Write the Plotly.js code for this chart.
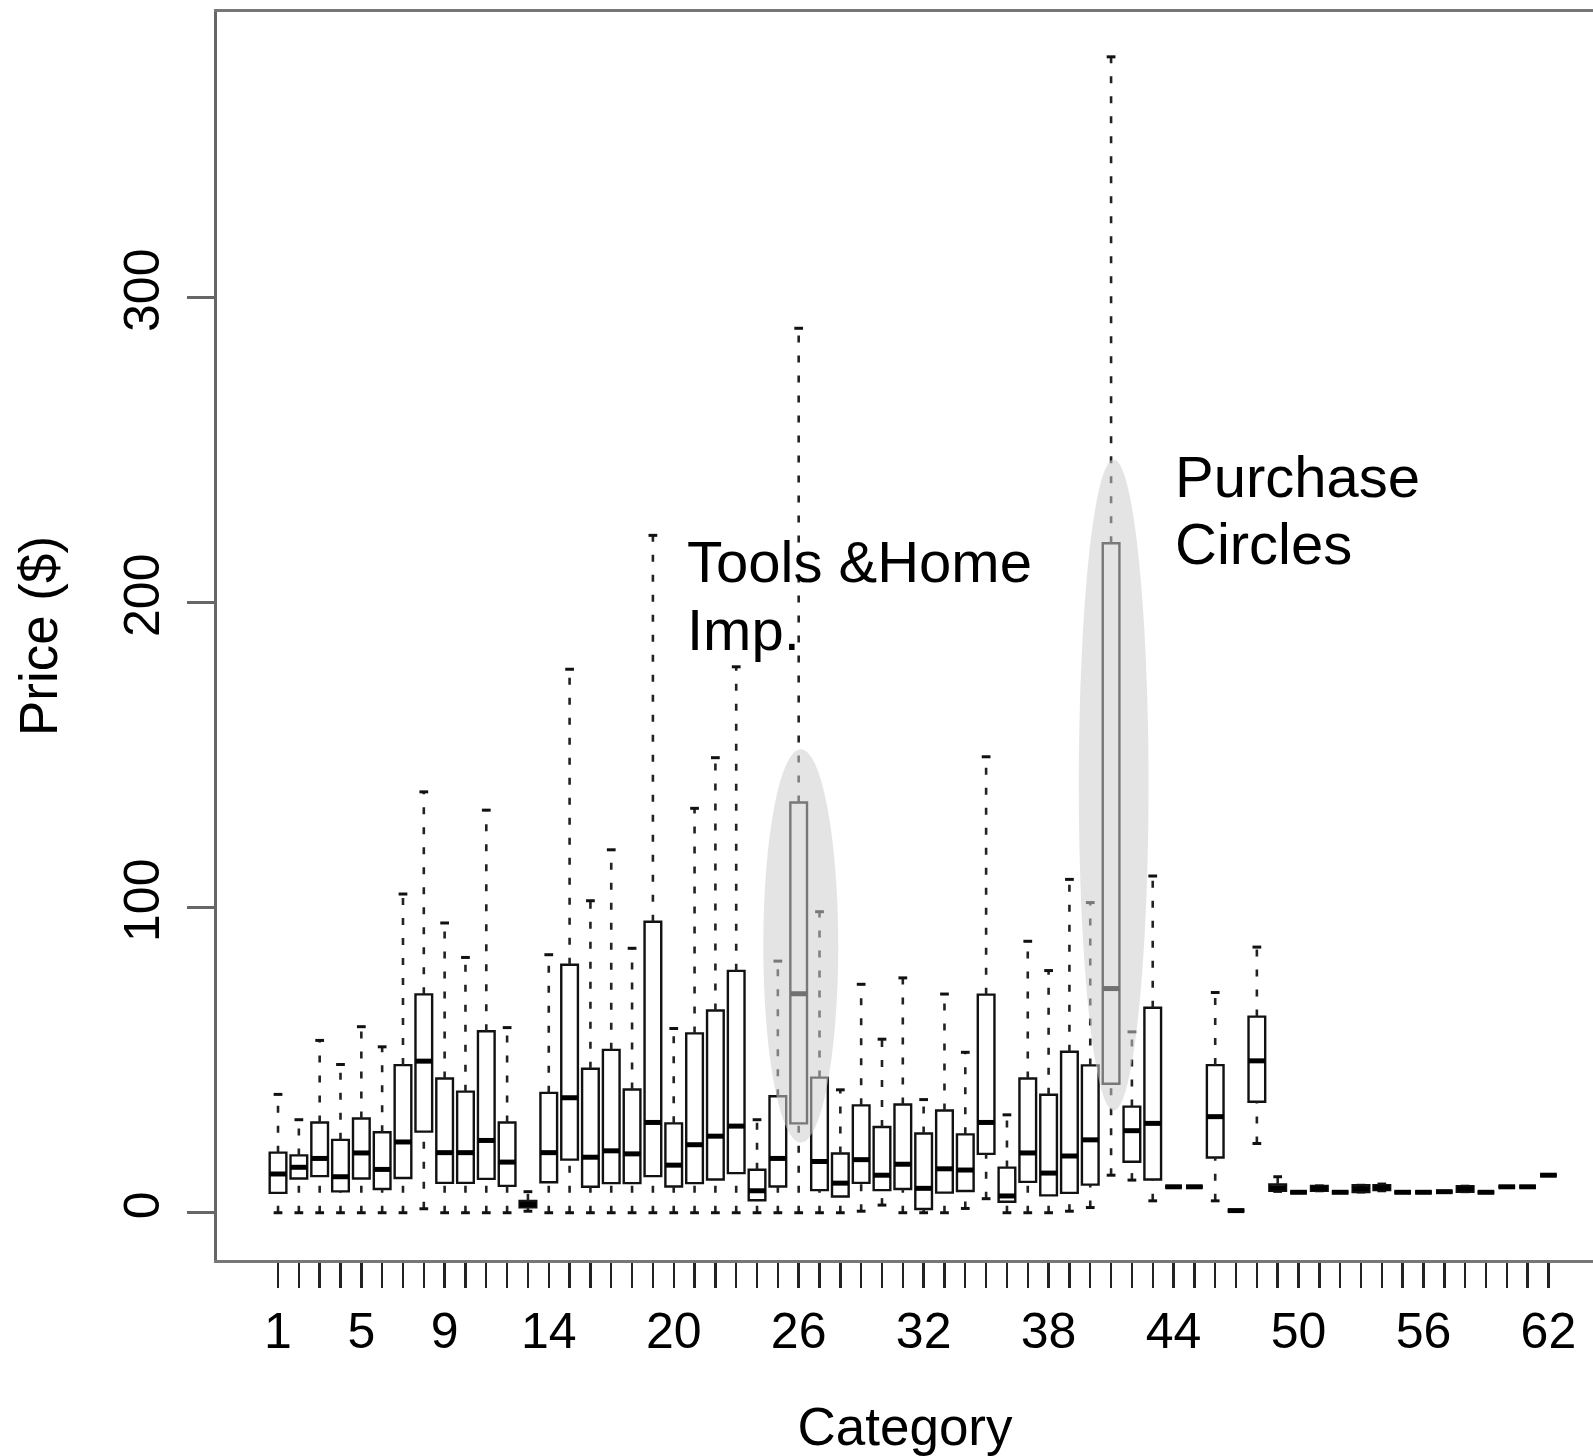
<!DOCTYPE html>
<html>
<head>
<meta charset="utf-8">
<script src="https://cdn.plot.ly/plotly-3.0.1.min.js"></script>
<style>html,body{margin:0;padding:0;background:#fff;overflow:hidden}</style>
</head>
<body>
<div id="chart" style="width:1593px;height:1456px"></div>
<script>
// ---- data ----
const categories = [1,2,3,4,5,6,7,8,9,10,11,12,13,14,15,16,17,18,19,20,21,22,23,24,25,26,27,28,29,30,31,32,33,34,35,36,37,38,39,40,41,42,43,44,45,46,47,48,49,50,51,52,53,54,55,56,57,58,59,60,61,62];
const lowerWhisker = [0,0,0,0,0,0,0,1.3,0,0,0,0,0.5,0,0,0,0,0,0,0,0,0,0,0,0,0,0,0,0.5,2.5,0,0,0,1.4,4.6,0,0,0,0.5,1.7,12.3,10.7,3.9,8.5,8.5,3.9,0.7,22.7,7.0,6.7,7.2,6.7,6.8,7.2,6.7,6.7,6.9,6.9,6.7,8.5,8.5,12.3];
const q1 = [6.5,11.2,12.0,7.0,11.2,7.8,11.4,26.6,9.8,9.8,11.1,8.8,1.8,10.0,17.4,8.5,9.7,9.7,12.0,8.6,9.7,10.9,13.0,4.1,8.6,29.3,7.4,5.3,9.8,7.4,7.8,1.2,6.6,7.1,19.3,3.6,10.1,5.7,6.5,9.2,42.3,16.7,10.9,8.5,8.5,18.1,0.7,36.4,7.2,6.7,7.2,6.7,6.8,7.4,6.7,6.7,6.9,6.9,6.7,8.5,8.5,12.3];
const median = [12.7,14.9,17.8,11.8,19.6,14.2,23.2,49.7,19.7,19.7,23.7,16.6,2.7,19.7,37.7,18.2,20.3,19.3,29.6,15.6,22.3,25.1,28.4,7.2,17.8,71.8,16.8,9.7,17.4,12.3,15.9,8.0,14.4,14.0,29.6,5.5,19.6,13.0,18.6,23.9,73.5,26.9,29.3,8.5,8.5,31.5,0.7,49.8,8.2,6.7,8.0,6.7,7.9,8.2,6.7,6.7,6.9,7.8,6.7,8.5,8.5,12.3];
const q3 = [19.7,18.8,29.6,23.9,30.9,26.4,48.4,71.6,44.0,39.7,59.5,29.6,3.9,39.3,81.3,47.2,53.4,40.4,95.4,29.3,58.8,66.3,79.3,14.1,38.2,134.5,44.3,19.4,35.2,28.1,35.5,26.0,33.5,25.7,71.5,14.8,44.0,38.7,52.8,48.3,219.5,34.8,67.2,8.5,8.5,48.4,0.7,64.3,9.3,6.7,8.8,6.7,9.0,9.0,6.7,6.7,6.9,8.7,6.7,8.5,8.5,12.3];
const upperWhisker = [38.8,30.5,56.5,48.6,61.0,54.4,104.5,138.0,95.0,83.7,132.0,60.7,6.9,84.6,178.2,102.3,119.0,86.7,222.1,60.4,132.6,149.2,179.0,30.5,82.5,290.0,98.7,40.3,74.9,56.9,77.0,37.1,71.7,52.6,149.5,32.1,89.0,79.4,109.3,101.7,379.0,59.3,110.4,8.5,8.5,72.2,0.7,87.1,11.8,6.7,8.8,6.7,9.0,9.4,6.7,6.7,6.9,8.7,6.7,8.5,8.5,12.3];
const labeledTicks = [1,5,9,14,20,26,32,38,44,50,56,62];
const yTicks = [0,100,200,300];

// ---- styling constants ----
const FONT = 'Liberation Sans, Arial, Helvetica, sans-serif';
const BOX_HALF = 0.4;
const CAP_HALF = 0.21;

// box bodies (whiskers drawn separately, dashed, as in R)
const boxTrace = {
  type: 'box',
  x: categories,
  q1: q1,
  median: median,
  q3: q3,
  lowerfence: q1,
  upperfence: q3,
  width: 0.8,
  whiskerwidth: 0,
  boxpoints: false,
  fillcolor: 'rgba(255,255,255,0)',
  line: {color: '#111', width: 2.4},
  hoverinfo: 'skip',
  showlegend: false
};

const wx = [], wy = [], cx = [], cy = [], mx = [], my = [];
categories.forEach((c, i) => {
  if (upperWhisker[i] > q3[i]) { wx.push(c, c, null); wy.push(q3[i], upperWhisker[i], null); }
  if (lowerWhisker[i] < q1[i]) { wx.push(c, c, null); wy.push(lowerWhisker[i], q1[i], null); }
  cx.push(c - CAP_HALF, c + CAP_HALF, null); cy.push(upperWhisker[i], upperWhisker[i], null);
  cx.push(c - CAP_HALF, c + CAP_HALF, null); cy.push(lowerWhisker[i], lowerWhisker[i], null);
  mx.push(c - BOX_HALF, c + BOX_HALF, null); my.push(median[i], median[i], null);
});

const whiskerTrace = {type:'scatter', mode:'lines', x:wx, y:wy, line:{color:'#222', width:2.6, dash:'7px,13px'}, hoverinfo:'skip', showlegend:false};
const capTrace = {type:'scatter', mode:'lines', x:cx, y:cy, line:{color:'#111', width:3}, hoverinfo:'skip', showlegend:false};
const medianTrace = {type:'scatter', mode:'lines', x:mx, y:my, line:{color:'#000', width:5}, hoverinfo:'skip', showlegend:false};

const layout = {
  width: 1593, height: 1456,
  margin: {l: 217, r: 0, t: 12, b: 196},
  paper_bgcolor: '#fff', plot_bgcolor: '#fff',
  font: {family: FONT, color: '#000'},
  showlegend: false,
  xaxis: {
    range: [-1.93, 64.14],
    tickmode: 'array',
    tickvals: categories,
    ticktext: categories.map(c => labeledTicks.includes(c) ? String(c) : ''),
    ticks: 'outside', ticklen: 25, tickwidth: 2.4, tickcolor: '#222',
    tickfont: {family: FONT, size: 50, color: '#000'},
    ticklabelstandoff: 0,
    showline: true, mirror: true, linecolor: '#777', linewidth: 3,
    showgrid: false, zeroline: false,
    title: {text: 'Category', font: {family: FONT, size: 53, color: '#000'}, standoff: 72}
  },
  yaxis: {
    range: [-15.5, 393.7],
    tickmode: 'array',
    tickvals: yTicks,
    ticktext: yTicks.map(String),
    tickangle: -90,
    ticks: 'outside', ticklen: 27, tickwidth: 3, tickcolor: '#666',
    tickfont: {family: FONT, size: 50, color: '#000'},
    ticklabelstandoff: 8,
    showline: true, mirror: false, linecolor: '#666', linewidth: 3,
    showgrid: false, zeroline: false,
    title: {text: 'Price ($)', font: {family: FONT, size: 53, color: '#000'}, standoff: 40}
  },
  shapes: [
    {type:'circle', xref:'x', yref:'y', x0:24.3, x1:27.9, y0:23, y1:152, fillcolor:'rgb(205,205,205)', opacity:0.55, line:{width:0}, layer:'above'},
    {type:'circle', xref:'x', yref:'y', x0:39.45, x1:42.8, y0:33.5, y1:247, fillcolor:'rgb(205,205,205)', opacity:0.55, line:{width:0}, layer:'above'}
  ],
  annotations: [
    {text:'Tools &Home', xref:'x', yref:'y', x:20.52, y:213.6, xanchor:'left', yanchor:'middle', showarrow:false, font:{family:FONT, size:58, color:'#000'}},
    {text:'Imp.', xref:'x', yref:'y', x:20.52, y:191.3, xanchor:'left', yanchor:'middle', showarrow:false, font:{family:FONT, size:58, color:'#000'}},
    {text:'Purchase', xref:'x', yref:'y', x:43.99, y:241.5, xanchor:'left', yanchor:'middle', showarrow:false, font:{family:FONT, size:58, color:'#000'}},
    {text:'Circles', xref:'x', yref:'y', x:43.99, y:219.5, xanchor:'left', yanchor:'middle', showarrow:false, font:{family:FONT, size:58, color:'#000'}}
  ]
};

Plotly.newPlot('chart', [boxTrace, whiskerTrace, capTrace, medianTrace], layout, {displayModeBar: false, staticPlot: true});
</script>
</body>
</html>
